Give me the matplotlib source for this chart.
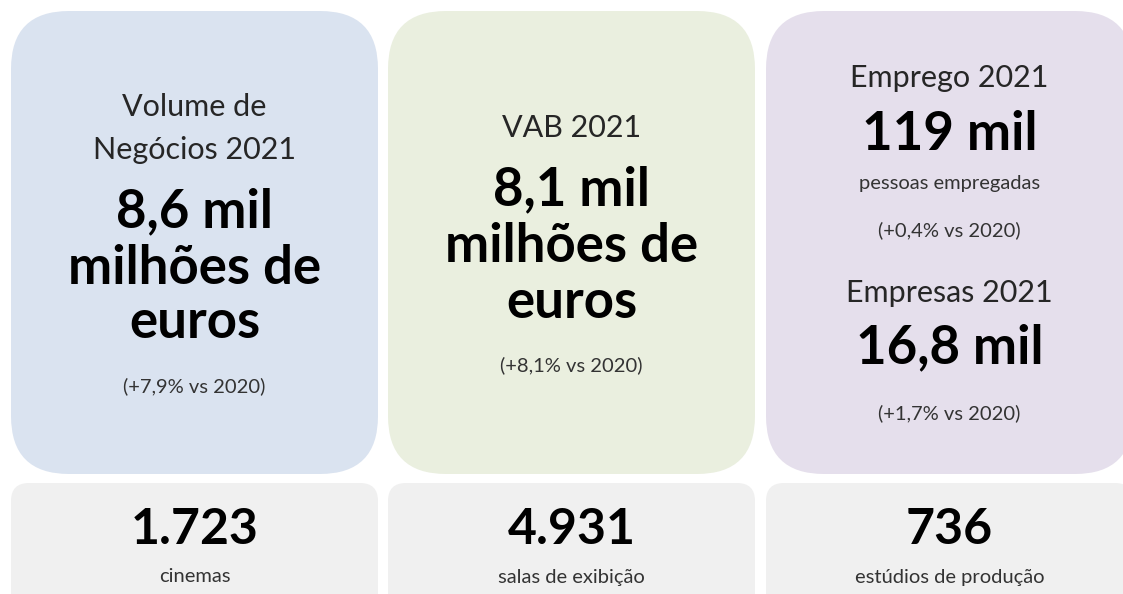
import matplotlib
matplotlib.use('agg')
import matplotlib.pyplot as plt
from matplotlib.patches import FancyBboxPatch

plt.rcParams['font.family'] = ['Lato', 'DejaVu Sans']

# Cartões principais (título, valor, notas)
card_titles = [["Volume de", "Negócios 2021"], ["VAB 2021"], ["Emprego 2021"]]
card_values = [["8,6 mil", "milhões de", "euros"], ["8,1 mil", "milhões de", "euros"], ["119 mil"]]
card_notes = ["(+7,9% vs 2020)", "(+8,1% vs 2020)", "(+0,4% vs 2020)"]
card_colors = ["#dae3f0", "#eaefdf", "#e5dfec"]

# Segundo indicador do terceiro cartão
extra_title = "Empresas 2021"
extra_value = "16,8 mil"
extra_note = "(+1,7% vs 2020)"
emp_label = "pessoas empregadas"

# Cartões inferiores
bottom_values = ["1.723", "4.931", "736"]
bottom_labels = ["cinemas", "salas de exibição", "estúdios de produção"]

W, H = 1123, 594
fig = plt.figure(figsize=(W / 100, H / 100), dpi=100)
ax = fig.add_axes([0, 0, 1, 1])
ax.set_xlim(0, W)
ax.set_ylim(H, 0)
ax.axis('off')

lefts = [11, 388, 766]
box_w = 367
for i, x0 in enumerate(lefts):
    ax.add_patch(FancyBboxPatch((x0, 11), box_w, 463,
                                boxstyle="round,pad=0,rounding_size=58",
                                fc=card_colors[i], ec='none'))
    ax.add_patch(FancyBboxPatch((x0, 483), box_w, 140,
                                boxstyle="round,pad=0,rounding_size=18",
                                fc="#f0f0f0", ec='none'))

cx = [x0 + box_w / 2 for x0 in lefts]
title_kw = dict(ha='center', va='center', fontsize=22, color='#262626')
big_kw = dict(ha='center', va='center', fontsize=38, fontweight='bold', color='black')
note_kw = dict(ha='center', va='center', fontsize=14.5, color='#333333')

# Cartão 1
ax.text(cx[0], 107, card_titles[0][0], **title_kw)
ax.text(cx[0], 150, card_titles[0][1], **title_kw)
for j, y in enumerate([212, 268, 323]):
    ax.text(cx[0], y, card_values[0][j], **big_kw)
ax.text(cx[0], 386, card_notes[0], **note_kw)

# Cartão 2
ax.text(cx[1], 128, card_titles[1][0], **title_kw)
for j, y in enumerate([190, 246, 302]):
    ax.text(cx[1], y, card_values[1][j], **big_kw)
ax.text(cx[1], 365, card_notes[1], **note_kw)

# Cartão 3
ax.text(cx[2], 78, card_titles[2][0], **title_kw)
ax.text(cx[2], 135, card_values[2][0], **big_kw)
ax.text(cx[2], 184, emp_label, **note_kw)
ax.text(cx[2], 230, card_notes[2], **note_kw)
ax.text(cx[2], 293, extra_title, **title_kw)
ax.text(cx[2], 348, extra_value, **big_kw)
ax.text(cx[2], 413, extra_note, **note_kw)

# Cartões inferiores
for i in range(3):
    ax.text(cx[i], 529, bottom_values[i], **dict(big_kw, fontsize=36))
    ax.text(cx[i], 577, bottom_labels[i], **note_kw)

fig.savefig("out.png", dpi=100)
